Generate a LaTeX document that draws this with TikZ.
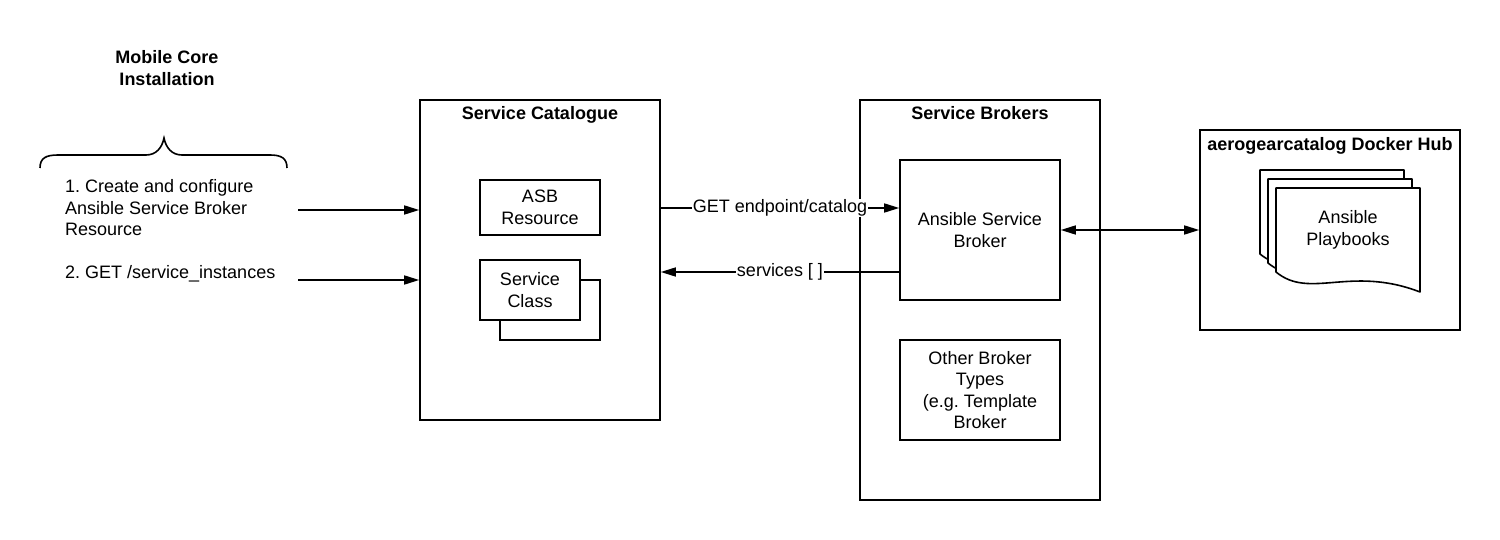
\documentclass[tikz,border=0pt]{standalone}
\usepackage{fontspec}
\setmainfont{Liberation Sans}
\usetikzlibrary{arrows.meta}
\frenchspacing

\begin{document}
\begin{tikzpicture} [
  x=1pt,
  y=-1pt,
  >={Triangle[length=15pt, width=9pt]},
  txt/.style={font=\fontsize{18}{21.5}\selectfont, align=center, inner sep=0pt},
  heading/.style={txt, font=\fontsize{18}{21.5}\selectfont\bfseries},
  box/.style={draw, line width=1.6pt, fill=white, txt},
  flow/.style={line width=1.6pt, ->},
  arrowtext/.style={txt, fill=white, inner sep=1pt},
  doc/.style={draw, line width=1.6pt, fill=white, line join=round}
  ]
  \useasboundingbox (0,0) rectangle (1500,540);

  % left side: installation steps
  \node(install)[heading, at={(167,68)}]{Mobile Core\\Installation};
  \draw[line width=1.6pt] (40,168) .. controls (40,158) and (46,155) .. (58,155) -- (146,155)
    .. controls (156,155) and (162,148) .. (164,138) .. controls (166,148) and (172,155) .. (182,155)
    -- (270,155) .. controls (281,155) and (287,158) .. (287,168);
  \node(step1)[txt, align=left, anchor=west, at={(65,208)}]{1. Create and configure\\Ansible Service Broker\\Resource};
  \node(step2)[txt, anchor=west, at={(65,274)}]{2. GET /service\_instances};

  % containers
  \node(catalogue)[box, minimum width=240pt, minimum height=320pt, at={(540,260)}]{};
  \node(brokers)[box, minimum width=240pt, minimum height=400pt, at={(980,300)}]{};
  \node(hub)[box, minimum width=260pt, minimum height=200pt, at={(1330,230)}]{};
  \node(catalogue-title)[heading, anchor=base, at={([yshift=-20pt]catalogue.north)}]{Service Catalogue};
  \node(brokers-title)[heading, anchor=base, at={([yshift=-20pt]brokers.north)}]{Service Brokers};
  \node(hub-title)[heading, anchor=base, at={([yshift=-21.5pt]hub.north)}]{aerogearcatalog Docker Hub};

  % inner boxes
  \node(asb)[box, minimum width=120pt, minimum height=55pt, at={(540,207.5)}]{ASB\\Resource};
  \node(class-back)[box, minimum width=100pt, minimum height=60pt, at={(550,310)}]{};
  \node(class)[box, minimum width=100pt, minimum height=60pt, at={(530,290)}]{Service\\Class};
  \node(ansible)[box, minimum width=160pt, minimum height=140pt, at={(980,230)}]{Ansible Service\\Broker};
  \node(other)[box, minimum width=160pt, minimum height=100pt, at={(980,390)}]{Other Broker\\Types\\(e.g. Template\\Broker};

  % stacked playbooks
  \foreach \dx/\dy in {-16/-18, -8/-9, 0/0}
    \draw[doc, shift={(\dx,\dy)}] (1276,188) -- (1420,188) -- (1420,292)
      .. controls (1350,265) and (1310,300) .. (1276,272) -- cycle;
  \node(playbooks)[txt, at={(1348,230)}]{Ansible\\Playbooks};

  % connectors
  \coordinate(step1-end) at (298,210);
  \coordinate(step2-end) at (298,280);
  \coordinate(get-end) at ([yshift=22pt]ansible.west);
  \coordinate(services-start) at ([yshift=-42pt]ansible.west);
  \draw[flow] (step1-end) -- (step1-end -| catalogue.west);
  \draw[flow] (step2-end) -- (step2-end -| catalogue.west);
  \draw[flow] (get-end -| catalogue.east) -- node[arrowtext]{GET endpoint/catalog} (get-end);
  \draw[flow] (services-start) -- node[arrowtext]{services [ ]} (services-start -| catalogue.east);
  \draw[flow, <->] (ansible.east) -- (ansible.east -| hub.west);
\end{tikzpicture}
\end{document}
